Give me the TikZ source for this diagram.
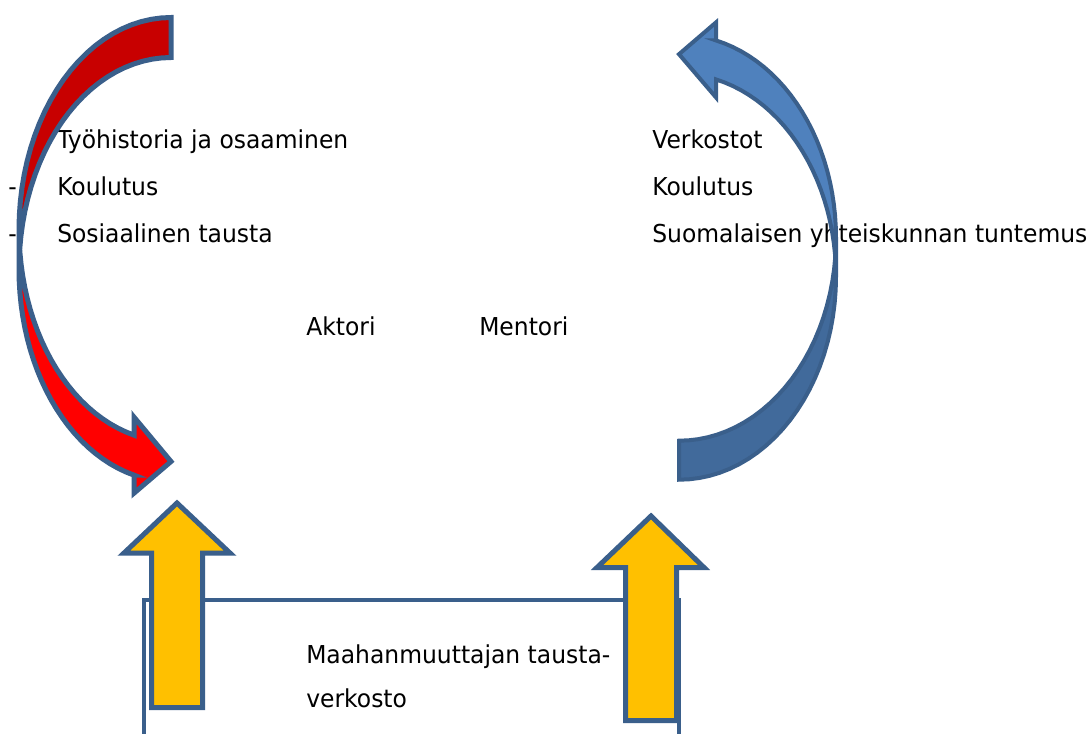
\documentclass[tikz,border=0pt]{standalone}
\usepackage{fontspec}
\setmainfont{DejaVu Sans}[FakeStretch=0.95]

\definecolor{edge}{RGB}{58,95,139}
\definecolor{redfront}{RGB}{255,0,0}
\definecolor{redback}{RGB}{200,0,0}
\definecolor{bluefront}{RGB}{79,129,189}
\definecolor{blueback}{RGB}{65,106,155}
\definecolor{gold}{RGB}{255,192,0}

% Curved band arrow built from two equal ellipses shifted by the band thickness.
% #1 width, #2 half height of the arc, #3 band thickness, #4 head width,
% #5 head length, #6 front colour, #7 back colour, #8 outline width
\newcommand{\bandarrow}[8]{%
  \pgfmathsetmacro{\baW}{#1}%
  \pgfmathsetmacro{\baR}{#2}%
  \pgfmathsetmacro{\baT}{#3}%
  \pgfmathsetmacro{\baHW}{#4}%
  \pgfmathsetmacro{\baHL}{#5}%
  \pgfmathsetmacro{\baAl}{acos(-\baHL/\baW)}%
  \pgfmathsetmacro{\baGa}{asin(\baT/(2*\baR))}%
  \pgfmathsetmacro{\baBa}{180-\baGa}%
  \pgfmathsetmacro{\baBb}{180+\baGa}%
  \pgfmathsetmacro{\baDy}{\baR*sin(\baAl)}%
  \pgfmathsetmacro{\baXo}{\baW-\baHL}%
  \pgfmathsetmacro{\baYf}{\baR+\baDy}%
  \pgfmathsetmacro{\baYs}{\baYf+\baT}%
  \pgfmathsetmacro{\baDh}{(\baHW-\baT)/2}%
  \pgfmathsetmacro{\baYu}{\baYf-\baDh}%
  \pgfmathsetmacro{\baYl}{\baYs+\baDh}%
  \pgfmathsetmacro{\baYt}{2*\baR+\baT/2}%
  \pgfmathsetmacro{\baRT}{\baR+\baT}%
  % back face
  \fill[#7]
    plot[domain=270:\baBa] ({\baW+\baW*cos(\x)},{\baR+\baR*sin(\x)})
    -- plot[domain=\baBb:270] ({\baW+\baW*cos(\x)},{\baRT+\baR*sin(\x)})
    -- cycle;
  % front face with the head
  \fill[#6]
    plot[domain=180:\baAl] ({\baW+\baW*cos(\x)},{\baR+\baR*sin(\x)})
    -- (\baXo,\baYu) -- (\baW,\baYt) -- (\baXo,\baYl) -- (\baXo,\baYs)
    -- plot[domain=\baAl:180] ({\baW+\baW*cos(\x)},{\baRT+\baR*sin(\x)})
    -- cycle;
  % outline
  \draw[shapeline, line width=#8]
    plot[domain=180:\baAl] ({\baW+\baW*cos(\x)},{\baR+\baR*sin(\x)})
    -- (\baXo,\baYu) -- (\baW,\baYt) -- (\baXo,\baYl) -- (\baXo,\baYs)
    -- plot[domain=\baAl:180] ({\baW+\baW*cos(\x)},{\baRT+\baR*sin(\x)})
    -- (0,\baR)
    -- plot[domain=180:270] ({\baW+\baW*cos(\x)},{\baR+\baR*sin(\x)})
    -- (\baW,\baT)
    -- plot[domain=270:\baBb] ({\baW+\baW*cos(\x)},{\baRT+\baR*sin(\x)});
}

\tikzset{
  shapeline/.style={draw=edge, line join=miter},
  lbl/.style={anchor=base west, inner sep=0pt, text=black,
              font=\fontsize{18.5}{22}\selectfont},
  uparrow/.style={fill=gold, draw=edge, line width=3.75pt, line join=miter},
  plot/.append style={samples=80}
}

\begin{document}
\begin{tikzpicture}[x=0.75pt, y=-0.75pt]
  \fill[white] (0,0) rectangle (1087,733);
  \useasboundingbox (0,0) rectangle (1087,733);

  % frame round the background network
  \draw[shapeline, line width=3pt] (143.5,599.5) rectangle (679,770);

  % lists
  \node[lbl] (t1) at (57,148) {Työhistoria ja osaaminen};
  \node[lbl] (t2) at (57,195) {Koulutus};
  \node[lbl] (t3) at (57,242) {Sosiaalinen tausta};
  \node[lbl] (d2) at (8,195) {-};
  \node[lbl] (d3) at (8,242) {-};

  \node[lbl] (r1) at (652,148) {Verkostot};
  \node[lbl] (r2) at (652,195) {Koulutus};
  \node[lbl] (r3) at (652,242) {Suomalaisen yhteiskunnan tuntemus};

  \node[lbl] (aktori) at (306,335) {Aktori};
  \node[lbl] (mentori) at (479,335) {Mentori};

  \node[lbl] (m1) at (306,663) {Maahanmuuttajan tausta-};
  \node[lbl] (m2) at (306,707) {verkosto};

  % red curved arrow on the left
  \begin{scope}[shift={(19,17.5)}]
    \bandarrow{152}{212}{40}{76}{37}{redfront}{redback}{3.75pt}
  \end{scope}

  % blue curved arrow on the right
  \begin{scope}[shift={(836,479.7)}, rotate=180]
    \bandarrow{157}{203}{39}{75}{37}{bluefront}{blueback}{3pt}
  \end{scope}

  % yellow block arrows
  \draw[uparrow] (177,503) -- (230,553) -- (202.5,553) -- (202.5,707.5)
    -- (151.5,707.5) -- (151.5,553) -- (124,553) -- cycle;
  \draw[uparrow] (651,516) -- (704,567.5) -- (676.5,567.5) -- (676.5,720.5)
    -- (625.5,720.5) -- (625.5,567.5) -- (597,567.5) -- cycle;
\end{tikzpicture}
\end{document}
